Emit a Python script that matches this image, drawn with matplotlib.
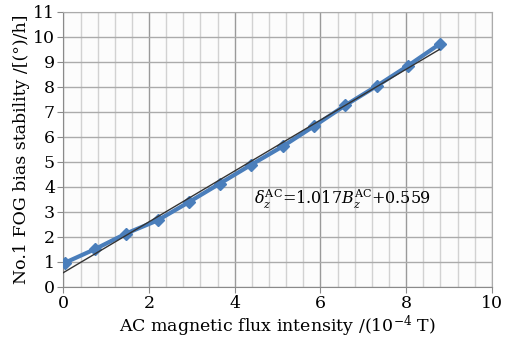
import numpy as np
import matplotlib
matplotlib.use("Agg")
import matplotlib.pyplot as plt

# Data
flux = [0.03, 0.74, 1.46, 2.20, 2.93, 3.65, 4.38, 5.13, 5.86, 6.58, 7.31, 8.04, 8.78]
bias = [0.95, 1.50, 2.12, 2.65, 3.38, 4.12, 4.87, 5.62, 6.43, 7.25, 8.02, 8.83, 9.70]
fit_coef = [1.017, 0.559]
fit_range = [0.0, 8.78]

plt.rcParams['font.family'] = ['DejaVu Serif']
plt.rcParams['mathtext.fontset'] = 'dejavuserif'

fig = plt.figure(figsize=(5.07, 3.42), dpi=100)
ax = fig.add_axes([0.125, 0.162, 0.845, 0.804])
ax.set_facecolor('#fcfcfc')

ax.set_xlim(0, 10)
ax.set_ylim(0, 11)
ax.set_xticks(np.arange(0, 11, 2))
ax.set_xticks(np.arange(0, 10.01, 0.4), minor=True)
ax.set_yticks(np.arange(0, 12, 1))

ax.grid(True, which='major', axis='x', color='#9a9a9a', lw=1.0)
ax.grid(True, which='minor', axis='x', color='#d2d2d2', lw=1.0)
ax.grid(True, which='major', axis='y', color='#ababab', lw=1.0)
ax.set_axisbelow(True)
ax.tick_params(which='minor', length=0)
ax.tick_params(which='major', length=4, color='#8a8a8a', labelsize=12.5, pad=2)

for side in ['left', 'bottom']:
    ax.spines[side].set_color('#8a8a8a')
for side in ['top', 'right']:
    ax.spines[side].set_color('#ababab')

ax.plot(flux, bias, color='#4a7ebb', lw=3, marker='D', ms=6, zorder=3)
fx = np.array(fit_range)
ax.plot(fx, np.polyval(fit_coef, fx), color='#333333', lw=1.0, zorder=4)

ax.text(4.45, 3.5, r'$\delta_z^{\mathrm{AC}}$=1.017$B_z^{\mathrm{AC}}$+0.559',
        fontsize=11.5, va='center', ha='left')

ax.set_xlabel(r'AC magnetic flux intensity /(10$^{-4}$ T)', fontsize=12.5, labelpad=1)
ax.set_ylabel('No.1 FOG bias stability /[(°)/h]', fontsize=12.5, labelpad=2)

fig.savefig('out.png', dpi=100)
